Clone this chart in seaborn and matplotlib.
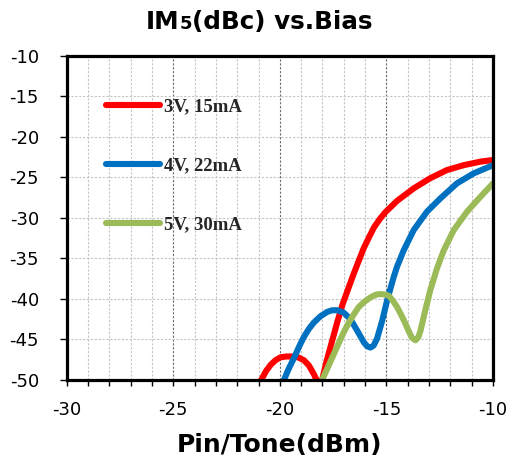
import numpy as np
import pandas as pd
import matplotlib
matplotlib.use("Agg")
import matplotlib.pyplot as plt
from matplotlib.ticker import MultipleLocator
from matplotlib.offsetbox import TextArea, HPacker, AnchoredOffsetbox
import seaborn as sns

sns.set_theme(style="white")
plt.rcParams["font.family"] = ["DejaVu Sans"]

# IM5 (dBc) versus input power per tone, for three bias points
labels = ["3V, 15mA", "4V, 22mA", "5V, 30mA"]
colors = ["#FF0000", "#0070C0", "#9BBB59"]

pin_3v = [-21.05, -20.875, -20.65, -20.44, -20.2, -19.97, -19.7, -19.42, -19.15, -18.875,
          -18.64, -18.4, -18.28, -18.15, -18.02, -17.8, -17.55, -17.3, -17.05, -16.8,
          -16.55, -16.3, -16.06, -15.8, -15.59, -15.3, -15.05, -14.5, -13.72, -12.94,
          -12.16, -11.375, -10.6, -10.0]
im5_3v = [-51.0, -50.0, -48.9, -48.15, -47.55, -47.2, -47.1, -47.1, -47.2, -47.55,
          -48.2, -49.3, -50.0, -50.6, -50.0, -47.6, -45.2, -42.8, -40.6, -38.8,
          -37.0, -35.3, -33.7, -32.3, -31.2, -30.1, -29.3, -27.9, -26.36, -25.1,
          -24.1, -23.5, -23.07, -22.86]

pin_4v = [-20.0, -19.81, -19.6, -19.34, -19.1, -18.875, -18.64, -18.4, -18.1, -17.78,
          -17.55, -17.3, -17.0, -16.69, -16.375, -16.06, -15.9, -15.75, -15.6, -15.44,
          -15.2, -14.97, -14.81, -14.66, -14.5, -14.19, -13.72, -13.1, -12.47, -11.69,
          -10.9, -10.0]
im5_4v = [-51.0, -50.0, -48.7, -47.3, -45.9, -44.7, -43.7, -42.9, -42.15, -41.6,
          -41.4, -41.4, -41.7, -42.5, -43.9, -45.35, -45.85, -46.0, -45.75, -44.9,
          -42.7, -40.2, -38.7, -37.3, -36.0, -34.0, -31.5, -29.24, -27.6, -25.74,
          -24.5, -23.5]

pin_5v = [-18.2, -18.02, -17.75, -17.47, -17.23, -17.0, -16.75, -16.53, -16.3, -16.06,
          -15.8, -15.6, -15.45, -15.28, -15.1, -14.89, -14.7, -14.5, -14.3, -14.1,
          -13.95, -13.8, -13.64, -13.5, -13.4, -13.17, -12.94, -12.625, -12.31, -11.84,
          -11.22, -10.59, -10.0]
im5_5v = [-51.0, -50.0, -48.45, -46.8, -45.4, -44.1, -42.85, -41.9, -41.0, -40.4,
          -39.9, -39.6, -39.45, -39.4, -39.45, -39.6, -40.2, -41.0, -42.0, -43.1,
          -44.0, -44.8, -45.1, -44.7, -43.9, -41.3, -38.9, -36.2, -34.0, -31.5,
          -29.24, -27.4, -25.74]

xticks = [-30, -25, -20, -15, -10]
yticks = [-50, -45, -40, -35, -30, -25, -20, -15, -10]

df = pd.concat([
    pd.DataFrame({"pin": pin_3v, "im5": im5_3v, "bias": labels[0]}),
    pd.DataFrame({"pin": pin_4v, "im5": im5_4v, "bias": labels[1]}),
    pd.DataFrame({"pin": pin_5v, "im5": im5_5v, "bias": labels[2]}),
], ignore_index=True)

fig = plt.figure(figsize=(5.08, 4.61), dpi=100)
ax = fig.add_axes([0.1313, 0.1757, 0.8392, 0.7034])

# grid: light dashed every 1 dBm / 5 dB, darker at every 5 dBm
ax.set_axisbelow(True)
ax.xaxis.set_minor_locator(MultipleLocator(1))
ax.grid(which="minor", axis="x", color="#c4c4c4", linestyle=(0, (2, 1.5)), linewidth=0.8)
ax.grid(which="major", axis="y", color="#c4c4c4", linestyle=(0, (2, 1.5)), linewidth=0.8)
ax.grid(which="major", axis="x", color="#6a6a6a", linestyle=(0, (2, 1.5)), linewidth=0.8)

sns.lineplot(data=df, x="pin", y="im5", hue="bias", hue_order=labels,
             palette=colors, sort=False, estimator=None, linewidth=4.4,
             solid_joinstyle="round", solid_capstyle="round", ax=ax)

ax.set_xlim(-30, -10)
ax.set_ylim(-50, -10)
ax.set_xticks(xticks)
ax.set_yticks(yticks)
ax.set_xticklabels([str(v) for v in xticks])
ax.set_yticklabels([str(v) for v in yticks])

for side in ["left", "right", "top", "bottom"]:
    ax.spines[side].set_visible(True)
    ax.spines[side].set_color("black")
    ax.spines[side].set_linewidth(2.3)
    ax.spines[side].set_zorder(5)

ax.tick_params(axis="x", which="both", direction="out", bottom=True, length=4,
               width=1.0, color="black", labelsize=13, pad=11, labelcolor="black")
ax.tick_params(axis="y", which="major", direction="out", left=True, length=5,
               width=1.0, color="black", labelsize=13, pad=15, labelcolor="black")

ax.set_xlabel("Pin/Tone(dBm)", fontsize=18, fontweight="bold", color="black", labelpad=10)
ax.set_ylabel("")

handles, hl = ax.get_legend_handles_labels()
for h in handles:
    h.set_solid_capstyle("round")
ax.legend(handles, hl, loc="upper left", bbox_to_anchor=(0.093, 0.869),
          frameon=False, borderpad=0, borderaxespad=0, handlelength=2.85,
          handletextpad=0.25, labelspacing=2.24,
          prop={"family": "Liberation Serif", "weight": "bold", "size": 13.5})

# title with a reduced "5"
big = dict(fontsize=17.7, fontweight="bold", color="black")
small = dict(fontsize=13, fontweight="bold", color="black")
title = HPacker(children=[TextArea("IM", textprops=big),
                          TextArea("5", textprops=small),
                          TextArea("(dBc) vs.Bias", textprops=big)],
                align="baseline", pad=0, sep=0)
anchored = AnchoredOffsetbox(loc="center", child=title, frameon=False,
                             bbox_to_anchor=(0.51, 0.952), bbox_transform=fig.transFigure,
                             pad=0, borderpad=0)
fig.add_artist(anchored)

fig.savefig("out.png", dpi=100)
